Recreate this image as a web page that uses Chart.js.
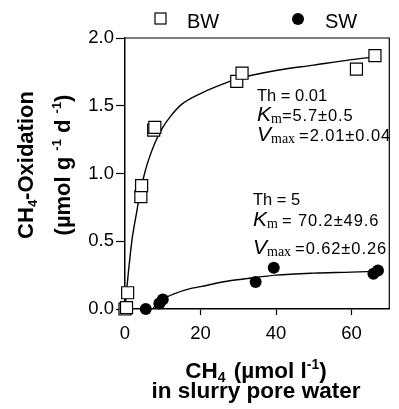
<!DOCTYPE html>
<html>
<head>
<meta charset="utf-8">
<script src="https://cdn.jsdelivr.net/npm/chart.js@4.4.1/dist/chart.umd.min.js"></script>
<style>
  html, body { margin: 0; padding: 0; background: #fff; }
  #wrap { width: 399px; height: 409px; }
</style>
</head>
<body>
<div id="wrap"><canvas id="chart" width="399" height="409"></canvas></div>
<script>
// ── data ──
const xTicks = [0, 20, 40, 60];
const yTicks = [0, 0.5, 1.0, 1.5, 2.0];

// BW (open squares)
const bwX = [0, 0.4, 0.7, 4.2, 4.4, 7.6, 7.9, 29.6, 31.0, 61.3, 66.2];
const bwY = [0.0, 0.01, 0.12, 0.83, 0.91, 1.32, 1.34, 1.68, 1.74, 1.77, 1.87];

// SW (filled circles)
const swX = [5.5, 9.1, 10.0, 34.6, 39.4, 65.8, 67.0];
const swY = [0.0, 0.04, 0.07, 0.20, 0.305, 0.26, 0.285];

// fitted curves
const bwFitX = [0, 0.5, 1, 1.5, 2, 3, 4, 5, 6, 8, 10, 12, 15, 20, 25, 30, 40, 50, 60, 66];
const bwFitY = [0, 0.16, 0.3, 0.43, 0.54, 0.7, 0.86, 0.98, 1.08, 1.23, 1.34, 1.42, 1.51, 1.59, 1.65, 1.7, 1.76, 1.8, 1.84, 1.86];
const swFitX = [7.4, 8, 9, 10, 11, 13, 17, 20, 27, 32.5, 40, 50, 60, 66];
const swFitY = [0, 0.025, 0.05, 0.072, 0.088, 0.112, 0.148, 0.165, 0.205, 0.225, 0.25, 0.265, 0.272, 0.278];

const pts = (xs, ys) => xs.map((x, i) => ({ x, y: ys[i] }));

const SANS = '"Liberation Sans", Arial, Helvetica, sans-serif';
const SERIF = '"Liberation Serif", "Times New Roman", serif';

function drawRuns(ctx, x, y, parts) {
  for (const p of parts) {
    ctx.font = p.f;
    ctx.letterSpacing = p.ls || '0px';
    ctx.fillText(p.t, x, y + (p.dy || 0));
    x += ctx.measureText(p.t).width + (p.gap || 0);
  }
  ctx.letterSpacing = '0px';
  return x;
}
function runsWidth(ctx, parts) {
  let w = 0;
  for (const p of parts) {
    ctx.font = p.f;
    ctx.letterSpacing = p.ls || '0px';
    w += ctx.measureText(p.t).width + (p.gap || 0);
  }
  ctx.letterSpacing = '0px';
  return w;
}

const textPlugin = {
  id: 'texts',
  afterDraw(chart) {
    const ctx = chart.ctx;
    const a = chart.chartArea;
    ctx.save();
    // frame top + right
    ctx.strokeStyle = '#000';
    ctx.lineWidth = 1.2;
    ctx.beginPath();
    ctx.moveTo(a.left, a.top); ctx.lineTo(a.right, a.top); ctx.lineTo(a.right, a.bottom);
    ctx.stroke();

    ctx.fillStyle = '#000';
    ctx.textBaseline = 'alphabetic';
    ctx.textAlign = 'left';

    // legend
    ctx.fillStyle = '#fff';
    ctx.lineWidth = 1.2;
    ctx.fillRect(155, 13, 11, 11);
    ctx.strokeRect(155, 13, 11, 11);
    ctx.fillStyle = '#000';
    ctx.beginPath(); ctx.arc(298, 19, 6, 0, Math.PI * 2); ctx.fill();
    ctx.font = '20px ' + SANS;
    ctx.fillText('BW', 187, 28);
    ctx.fillText('SW', 325, 28);

    // annotations
    const f16 = '16.5px ' + SANS;
    const fIt = 'italic 21px ' + SANS;
    const fSub = '14px ' + SERIF;
    const ls = '0.9px';
    drawRuns(ctx, 257, 101, [{ t: 'Th = 0.01', f: f16 }]);
    drawRuns(ctx, 257, 121, [{ t: 'K', f: fIt }, { t: 'm', f: fSub, dy: 2 }, { t: '=5.7\u00b10.5', f: f16, ls }]);
    drawRuns(ctx, 257, 141, [{ t: 'V', f: fIt }, { t: 'max', f: fSub, dy: 2, gap: 4 }, { t: '=2.01\u00b10.04', f: f16, ls }]);

    drawRuns(ctx, 253, 205, [{ t: 'Th = 5', f: f16 }]);
    drawRuns(ctx, 253, 226, [{ t: 'K', f: fIt }, { t: 'm', f: fSub, dy: 2, gap: 4 }, { t: '= 70.2\u00b149.6', f: f16, ls }]);
    drawRuns(ctx, 253, 254, [{ t: 'V', f: fIt }, { t: 'max', f: fSub, dy: 2, gap: 4 }, { t: '=0.62\u00b10.26', f: f16, ls }]);

    // x title
    const fb = 'bold 22.5px ' + SANS;
    const fbs = 'bold 14px ' + SANS;
    const xt1 = [{ t: 'CH', f: fb }, { t: '4', f: fbs, dy: 4, gap: 2 }, { t: ' (\u00b5mol l', f: fb }, { t: '-1', f: fbs, dy: -9 }, { t: ')', f: fb }];
    drawRuns(ctx, 256 - runsWidth(ctx, xt1) / 2, 378, xt1);
    ctx.font = fb;
    ctx.textAlign = 'center';
    ctx.fillText('in slurry pore water', 256, 398);
    ctx.textAlign = 'left';

    // y title (rotated)
    ctx.rotate(-Math.PI / 2);
    const fy = 'bold 22px ' + SANS;
    const fys = 'bold 13px ' + SANS;
    const yt1 = [{ t: 'CH', f: fy }, { t: '4', f: fys, dy: 4 }, { t: '-Oxidation', f: fy }];
    drawRuns(ctx, -165 - runsWidth(ctx, yt1) / 2, 33, yt1);
    const yt2 = [{ t: '(\u00b5mol g ', f: fy }, { t: '-1', f: fys, dy: -9 }, { t: ' d ', f: fy }, { t: '-1', f: fys, dy: -9 }, { t: ')', f: fy }];
    drawRuns(ctx, -165 - runsWidth(ctx, yt2) / 2, 70, yt2);
    ctx.restore();
  }
};

new Chart(document.getElementById('chart'), {
  type: 'scatter',
  data: {
    datasets: [
      { data: pts(bwX, bwY), pointStyle: 'rect', pointRadius: 8.5, backgroundColor: '#fff', borderColor: '#000', borderWidth: 1.2, clip: false, order: 0 },
      { data: pts(swX, swY), pointStyle: 'circle', pointRadius: 6, backgroundColor: '#000', borderColor: '#000', borderWidth: 0, clip: false, order: 0 },
      { type: 'line', data: pts(bwFitX, bwFitY), showLine: true, pointRadius: 0, borderColor: '#000', borderWidth: 1.4, cubicInterpolationMode: 'monotone', fill: false, order: 1 },
      { type: 'line', data: pts(swFitX, swFitY), showLine: true, pointRadius: 0, borderColor: '#000', borderWidth: 1.4, cubicInterpolationMode: 'monotone', fill: false, order: 1 }
    ]
  },
  options: {
    responsive: false,
    animation: false,
    devicePixelRatio: 1,
    layout: { padding: { left: 0, top: 38, right: 4, bottom: 0 } },
    plugins: { legend: { display: false }, tooltip: { enabled: false } },
    scales: {
      x: {
        type: 'linear', min: 0, max: 70,
        afterBuildTicks: s => { s.ticks = xTicks.map(v => ({ value: v })); },
        afterFit: s => { s.height = 100; },
        ticks: { color: '#000', font: { family: SANS, size: 18.5 }, padding: 8, maxRotation: 0 },
        grid: { display: true, drawOnChartArea: false, drawTicks: true, tickLength: 6, tickColor: '#000', tickWidth: 1.2 },
        border: { display: true, color: '#000', width: 1.5 }
      },
      y: {
        type: 'linear', min: 0, max: 2,
        afterBuildTicks: s => { s.ticks = yTicks.map(v => ({ value: v })); },
        afterFit: s => { s.width = 125; },
        ticks: { color: '#000', font: { family: SANS, size: 18.5 }, padding: 2, callback: v => v.toFixed(1) },
        grid: { display: true, drawOnChartArea: false, drawTicks: true, tickLength: 9, tickColor: '#000', tickWidth: 1.2 },
        border: { display: true, color: '#000', width: 1.5 }
      }
    }
  },
  plugins: [textPlugin]
});
</script>
</body>
</html>
